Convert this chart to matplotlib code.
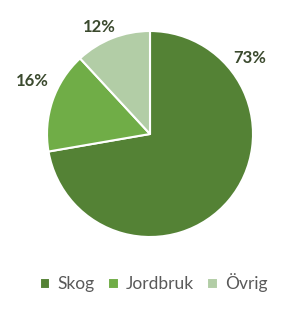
import matplotlib
matplotlib.use("Agg")
import matplotlib.pyplot as plt

labels = ["Skog", "Jordbruk", "Övrig"]
shares = [73, 16, 12]
colors = ["#548235", "#70ad47", "#b2cda6"]

plt.rcParams['font.family'] = ['Lato', 'DejaVu Sans']

fig = plt.figure(figsize=(3.04, 3.31), dpi=100)
ax = fig.add_axes([47 / 304, 94 / 331, 206 / 304, 206 / 331])

total = sum(shares)
wedges, texts, autotexts = ax.pie(
    shares, colors=colors, startangle=90, counterclock=False,
    autopct=lambda p: '%.0f%%' % (p * total / 100), pctdistance=1.2,
    radius=1.0,
    wedgeprops=dict(edgecolor='white', linewidth=1.5),
    textprops=dict(fontsize=12, fontweight='bold', color='#3b4a2e'))

# move labels to where the original puts them
label_pos = [(0.97, 0.74), (-1.14, 0.51), (-0.49, 1.04)]
for t, (x, y) in zip(autotexts, label_pos):
    t.set_position((x, y))
    t.set_ha('center')
    t.set_va('center')

ax.set_xlim(-1, 1)
ax.set_ylim(-1, 1)
ax.set_aspect('equal')
ax.axis('off')

fig.legend(wedges, labels, loc='center', bbox_to_anchor=(0.505, 1 - 283 / 331),
           ncol=3, frameon=False, fontsize=12.5, handlelength=0.6,
           handleheight=0.6, handletextpad=0.4, columnspacing=0.8,
           labelcolor='#595959')

fig.savefig("out.png", dpi=100)
